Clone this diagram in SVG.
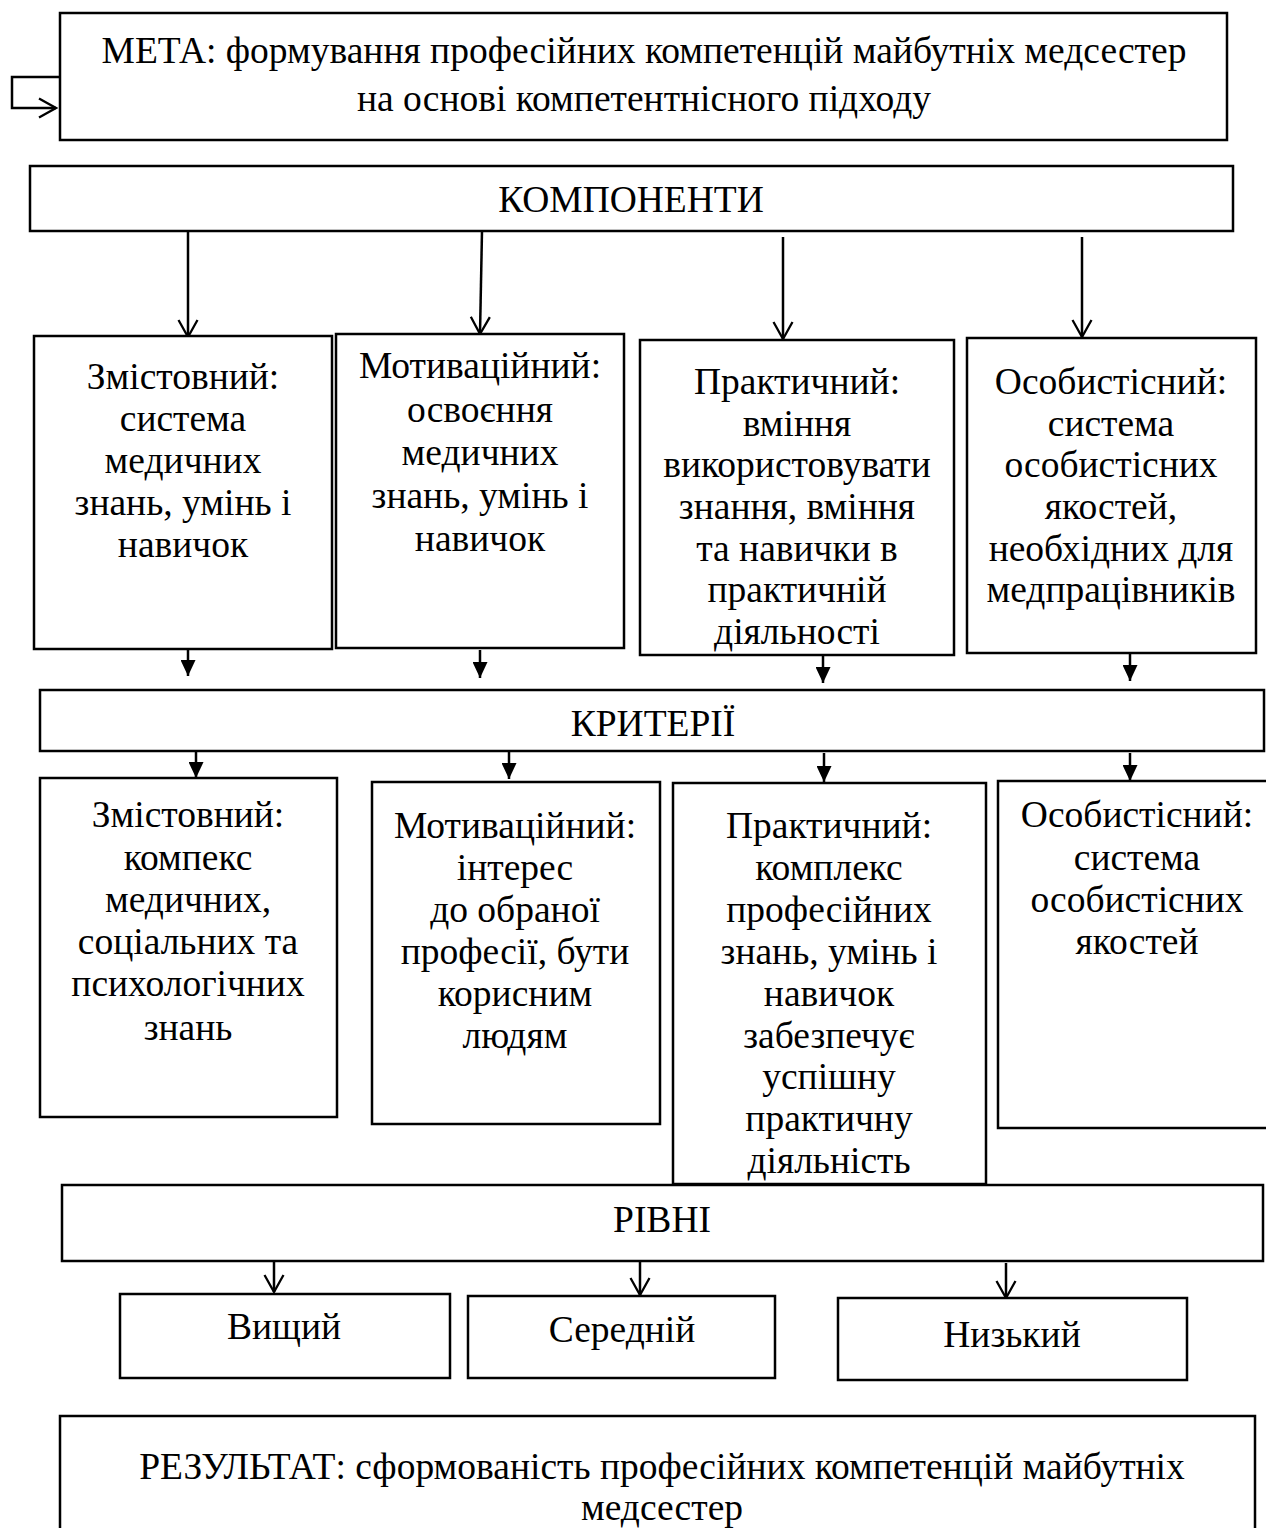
<svg xmlns="http://www.w3.org/2000/svg" width="1266" height="1528" viewBox="0 0 1266 1528">
<defs>
<style>
.b{fill:#fff;stroke:#000;stroke-width:2.5}
.t{font-family:"Liberation Serif","Times New Roman",serif;font-size:37.5px;fill:#000;text-anchor:middle}
.c{stroke:#000;stroke-width:2.5;fill:none}
</style>
<marker id="open" markerWidth="20" markerHeight="22" refX="18" refY="11" orient="auto" markerUnits="userSpaceOnUse" viewBox="0 0 20 22">
<path d="M1,1.5 L18,11 L1,20.5" fill="none" stroke="#000" stroke-width="2.3"/>
</marker>
<marker id="fill" markerWidth="16" markerHeight="15" refX="16" refY="7.5" orient="auto" markerUnits="userSpaceOnUse" viewBox="0 0 16 15">
<path d="M0,0 L16,7.5 L0,15 Z" fill="#000"/>
</marker>
</defs>

<g id="connectors">
<polyline class="c" points="60,77 12,77 12,108 56,108" marker-end="url(#open)"/>
<line class="c" x1="188" y1="231" x2="188" y2="337" marker-end="url(#open)"/>
<line class="c" x1="482" y1="231" x2="480" y2="334" marker-end="url(#open)"/>
<line class="c" x1="783" y1="237" x2="783" y2="339" marker-end="url(#open)"/>
<line class="c" x1="1082" y1="237" x2="1082" y2="337" marker-end="url(#open)"/>
<line class="c" x1="188" y1="649" x2="188" y2="676" marker-end="url(#fill)"/>
<line class="c" x1="480" y1="650" x2="480" y2="678" marker-end="url(#fill)"/>
<line class="c" x1="823" y1="656" x2="823" y2="683" marker-end="url(#fill)"/>
<line class="c" x1="1130" y1="654" x2="1130" y2="681" marker-end="url(#fill)"/>
<line class="c" x1="196" y1="751" x2="196" y2="778" marker-end="url(#fill)"/>
<line class="c" x1="509" y1="751" x2="509" y2="779" marker-end="url(#fill)"/>
<line class="c" x1="824" y1="753" x2="824" y2="782" marker-end="url(#fill)"/>
<line class="c" x1="1130" y1="753" x2="1130" y2="781" marker-end="url(#fill)"/>
<line class="c" x1="274" y1="1257" x2="274" y2="1292" marker-end="url(#open)"/>
<line class="c" x1="640" y1="1261" x2="640" y2="1295" marker-end="url(#open)"/>
<line class="c" x1="1006" y1="1263" x2="1006" y2="1298" marker-end="url(#open)"/>
</g>

<g id="meta">
<rect class="b" x="60" y="13" width="1167" height="127"/>
<text class="t" x="644" y="63">МЕТА: формування професійних компетенцій майбутніх медсестер</text>
<text class="t" x="644" y="111">на основі компетентнісного підходу</text>
</g>

<g id="komponenty">
<rect class="b" x="30" y="166" width="1203" height="65"/>
<text class="t" x="631" y="212">КОМПОНЕНТИ</text>
</g>

<g id="comp1">
<rect class="b" x="34" y="336" width="298" height="313"/>
<text class="t"><tspan x="183" y="389">Змістовний:</tspan><tspan x="183" y="431">система</tspan><tspan x="183" y="473">медичних</tspan><tspan x="183" y="515">знань, умінь і</tspan><tspan x="183" y="557">навичок</tspan></text>
</g>
<g id="comp2">
<rect class="b" x="336" y="334" width="288" height="314"/>
<text class="t"><tspan x="480" y="378">Мотиваційний:</tspan><tspan x="480" y="422">освоєння</tspan><tspan x="480" y="465">медичних</tspan><tspan x="480" y="508">знань, умінь і</tspan><tspan x="480" y="551">навичок</tspan></text>
</g>
<g id="comp3">
<rect class="b" x="640" y="340" width="314" height="315"/>
<text class="t"><tspan x="797" y="394">Практичний:</tspan><tspan x="797" y="436">вміння</tspan><tspan x="797" y="477">використовувати</tspan><tspan x="797" y="519">знання, вміння</tspan><tspan x="797" y="561">та навички в</tspan><tspan x="797" y="602">практичній</tspan><tspan x="797" y="644">діяльності</tspan></text>
</g>
<g id="comp4">
<rect class="b" x="967" y="338" width="289" height="315"/>
<text class="t"><tspan x="1111" y="394">Особистісний:</tspan><tspan x="1111" y="436">система</tspan><tspan x="1111" y="477">особистісних</tspan><tspan x="1111" y="519">якостей,</tspan><tspan x="1111" y="561">необхідних для</tspan><tspan x="1111" y="602">медпрацівників</tspan></text>
</g>

<g id="kryterii">
<rect class="b" x="40" y="690" width="1224" height="61"/>
<text class="t" x="653" y="736">КРИТЕРІЇ</text>
</g>

<g id="crit1">
<rect class="b" x="40" y="778" width="297" height="339"/>
<text class="t"><tspan x="188" y="827">Змістовний:</tspan><tspan x="188" y="870">компекс</tspan><tspan x="188" y="912">медичних,</tspan><tspan x="188" y="954">соціальних та</tspan><tspan x="188" y="996">психологічних</tspan><tspan x="188" y="1040">знань</tspan></text>
</g>
<g id="crit2">
<rect class="b" x="372" y="782" width="288" height="342"/>
<text class="t"><tspan x="515" y="838">Мотиваційний:</tspan><tspan x="515" y="880">інтерес</tspan><tspan x="515" y="922">до обраної</tspan><tspan x="515" y="964">професії, бути</tspan><tspan x="515" y="1006">корисним</tspan><tspan x="515" y="1048">людям</tspan></text>
</g>
<g id="crit3">
<rect class="b" x="673" y="783" width="313" height="401"/>
<text class="t"><tspan x="829" y="838">Практичний:</tspan><tspan x="829" y="880">комплекс</tspan><tspan x="829" y="922">професійних</tspan><tspan x="829" y="964">знань, умінь і</tspan><tspan x="829" y="1006">навичок</tspan><tspan x="829" y="1048">забезпечує</tspan><tspan x="829" y="1089">успішну</tspan><tspan x="829" y="1131">практичну</tspan><tspan x="829" y="1173">діяльність</tspan></text>
</g>
<g id="crit4">
<rect class="b" x="998" y="781" width="290" height="347"/>
<text class="t"><tspan x="1137" y="827">Особистісний:</tspan><tspan x="1137" y="870">система</tspan><tspan x="1137" y="912">особистісних</tspan><tspan x="1137" y="954">якостей</tspan></text>
</g>

<g id="rivni">
<rect class="b" x="62" y="1185" width="1201" height="76"/>
<text class="t" x="662" y="1232">РІВНІ</text>
</g>

<g id="level1">
<rect class="b" x="120" y="1294" width="330" height="84"/>
<text class="t" x="284" y="1339">Вищий</text>
</g>
<g id="level2">
<rect class="b" x="468" y="1296" width="307" height="82"/>
<text class="t" x="622" y="1342">Середній</text>
</g>
<g id="level3">
<rect class="b" x="838" y="1298" width="349" height="82"/>
<text class="t" x="1012" y="1347">Низький</text>
</g>

<g id="result">
<rect class="b" x="60" y="1416" width="1195" height="130"/>
<text class="t" x="662" y="1479">РЕЗУЛЬТАТ: сформованість професійних компетенцій майбутніх</text>
<text class="t" x="662" y="1520">медсестер</text>
</g>
</svg>
